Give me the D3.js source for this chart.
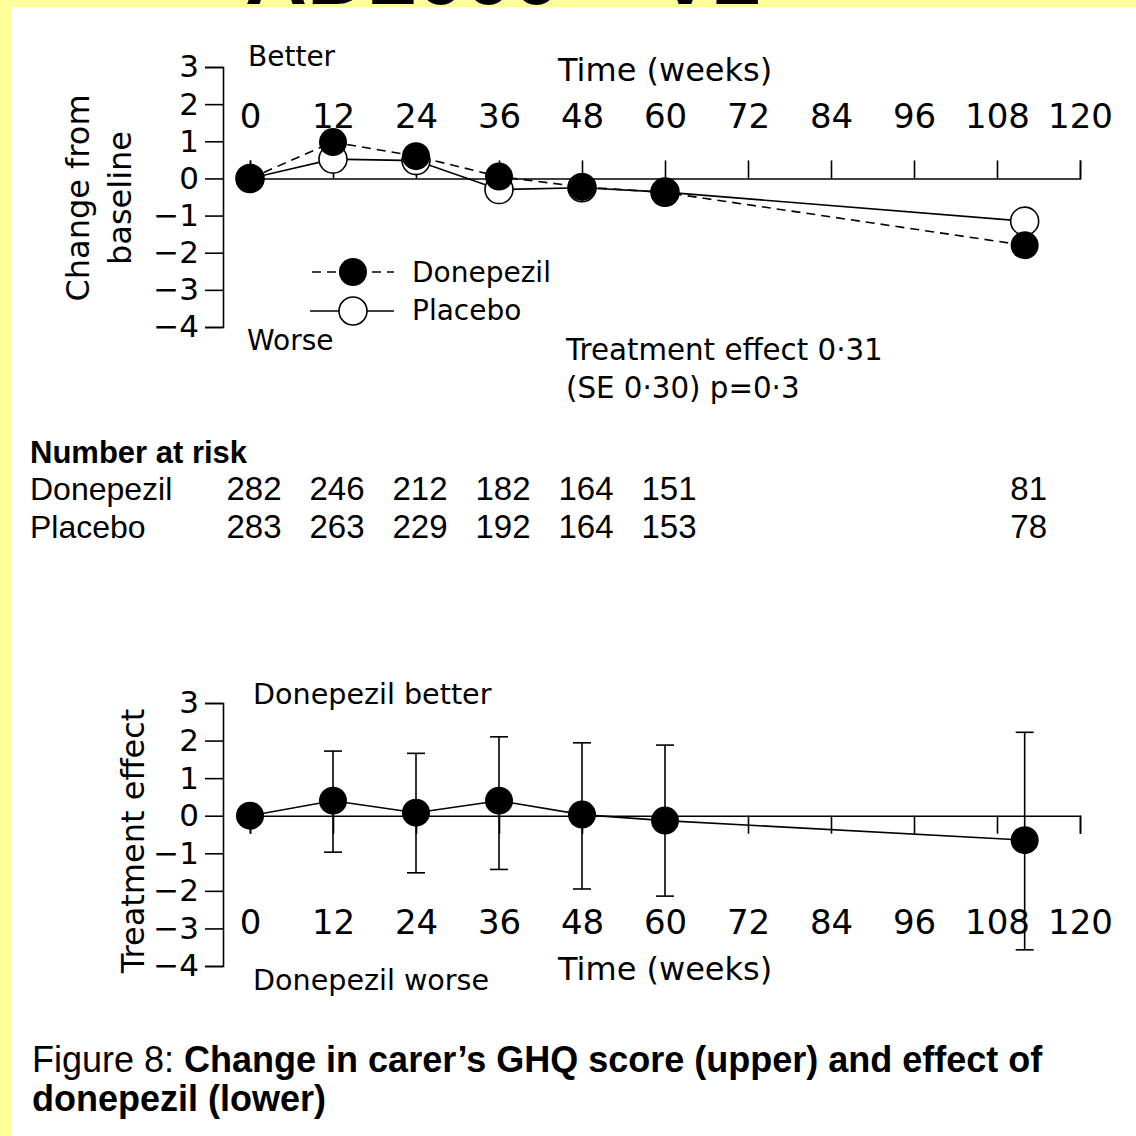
<!DOCTYPE html>
<html>
<head>
<meta charset="utf-8">
<script src="https://cdn.jsdelivr.net/npm/d3@7"></script>
<style>
  body { margin: 0; background: #ffffff; }
  svg { display: block; }
</style>
</head>
<body>
<div id="chart"></div>
<script>
// data
const TIME = [0, 12, 24, 36, 48, 60, 112];
const X_TICKS = [0, 12, 24, 36, 48, 60, 72, 84, 96, 108, 120];
const Y_TICKS = [3, 2, 1, 0, -1, -2, -3, -4];

// upper panel: change from baseline
const DONEPEZIL = [0, 0.98, 0.6, 0.05, -0.23, -0.38, -1.8];
const PLACEBO = [0, 0.52, 0.48, -0.3, -0.25, -0.37, -1.15];

// lower panel: treatment effect with CI
const EFFECT = [0, 0.4, 0.08, 0.4, 0.03, -0.13, -0.65];
const EFFECT_HI = [null, 1.72, 1.66, 2.1, 1.94, 1.88, 2.22];
const EFFECT_LO = [null, -0.97, -1.52, -1.43, -1.95, -2.14, -3.57];

// number at risk
const RISK_DONEPEZIL = [282, 246, 212, 182, 164, 151, 81];
const RISK_PLACEBO = [283, 263, 229, 192, 164, 153, 78];

const FRAME_WIDTH = 1136;
const FRAME_HEIGHT = 1136;
const CHART_FONT = "'DejaVu Sans', sans-serif";
const TEXT_FONT = "'Liberation Sans', Arial, sans-serif";
const R = 14;

const FRAME = d3.select("#chart")
                  .append("svg")
                    .attr("width", FRAME_WIDTH)
                    .attr("height", FRAME_HEIGHT);

// yellow page edge + cut-off heading
FRAME.append("rect").attr("x", 0).attr("y", 0).attr("width", FRAME_WIDTH).attr("height", 7).attr("fill", "#ffff99");
FRAME.append("rect").attr("x", 0).attr("y", 0).attr("width", 11).attr("height", FRAME_HEIGHT).attr("fill", "#ffff99");
FRAME.append("text")
    .attr("x", 245).attr("y", 4)
    .attr("font-family", TEXT_FONT).attr("font-weight", "bold").attr("font-size", 86)
    .text("AD2000 \u2013 V2");

const X_SCALE = d3.scaleLinear().domain([0, 120]).range([250, 1080]);
const Y_UP = d3.scaleLinear().domain([-4, 3]).range([327, 67]);
const Y_LOW = d3.scaleLinear().domain([-4, 3]).range([966, 703]);

function styleAxis(g, size) {
    g.attr("font-family", CHART_FONT).attr("font-size", size);
    g.selectAll("path, line").attr("stroke", "#000").attr("stroke-width", 1.6);
    g.selectAll("text").attr("fill", "#000");
}

function addText(x, y, str, size, opts) {
    opts = opts || {};
    return FRAME.append("text")
        .attr("x", x).attr("y", y)
        .attr("font-family", opts.font || CHART_FONT)
        .attr("font-size", size)
        .attr("font-weight", opts.weight || "normal")
        .attr("text-anchor", opts.anchor || "start")
        .attr("fill", "#000")
        .text(str);
}

// ---------- UPPER PANEL ----------
FRAME.append("g")
    .attr("transform", "translate(223,0)")
    .call(d3.axisLeft(Y_UP).tickValues(Y_TICKS).tickSize(18).tickPadding(6).tickFormat(d3.format("d")))
    .call(g => styleAxis(g, 31));

FRAME.append("g")
    .attr("transform", "translate(0," + Y_UP(0) + ")")
    .call(d3.axisTop(X_SCALE).tickValues(X_TICKS).tickSize(18).tickPadding(32).tickFormat(d3.format("d")))
    .call(g => styleAxis(g, 34));

addText(558, 81, "Time (weeks)", 32);
addText(248, 66, "Better", 28);
addText(247, 350, "Worse", 28);

FRAME.append("text")
    .attr("transform", "translate(89,198) rotate(-90)")
    .attr("text-anchor", "middle").attr("font-family", CHART_FONT).attr("font-size", 32)
    .text("Change from");
FRAME.append("text")
    .attr("transform", "translate(131,198) rotate(-90)")
    .attr("text-anchor", "middle").attr("font-family", CHART_FONT).attr("font-size", 32)
    .text("baseline");

const upLine = (vals) => d3.line()
    .x((d, i) => X_SCALE(TIME[i]))
    .y(d => Y_UP(d))(vals);

// placebo: solid line, open circles
FRAME.append("path")
    .attr("d", upLine(PLACEBO))
    .attr("fill", "none").attr("stroke", "#000").attr("stroke-width", 1.6);
FRAME.selectAll(".pla")
    .data(PLACEBO)
    .enter()
    .append("circle")
        .attr("cx", (d, i) => X_SCALE(TIME[i]))
        .attr("cy", d => Y_UP(d))
        .attr("r", R)
        .attr("fill", "#fff").attr("stroke", "#000").attr("stroke-width", 1.6);

// donepezil: dashed line, filled circles
FRAME.append("path")
    .attr("d", upLine(DONEPEZIL))
    .attr("fill", "none").attr("stroke", "#000").attr("stroke-width", 1.6)
    .attr("stroke-dasharray", "9,6");
FRAME.selectAll(".don")
    .data(DONEPEZIL)
    .enter()
    .append("circle")
        .attr("cx", (d, i) => X_SCALE(TIME[i]))
        .attr("cy", d => Y_UP(d))
        .attr("r", R)
        .attr("fill", "#000");

// legend
FRAME.append("line").attr("x1", 312).attr("x2", 394).attr("y1", 272).attr("y2", 272)
    .attr("stroke", "#000").attr("stroke-width", 1.6).attr("stroke-dasharray", "9,6");
FRAME.append("circle").attr("cx", 353).attr("cy", 272).attr("r", R).attr("fill", "#000");
addText(412, 282, "Donepezil", 28);
FRAME.append("line").attr("x1", 310).attr("x2", 394).attr("y1", 311).attr("y2", 311)
    .attr("stroke", "#000").attr("stroke-width", 1.6);
FRAME.append("circle").attr("cx", 353).attr("cy", 311).attr("r", R)
    .attr("fill", "#fff").attr("stroke", "#000").attr("stroke-width", 1.6);
addText(412, 320, "Placebo", 28);

addText(566, 360, "Treatment effect 0\u00b731", 29.3);
addText(566, 398, "(SE 0\u00b730) p=0\u00b73", 29.3);

// ---------- NUMBER AT RISK ----------
addText(30, 463, "Number at risk", 31, {font: TEXT_FONT, weight: "bold"});
addText(30, 500, "Donepezil", 32, {font: TEXT_FONT});
addText(30, 538, "Placebo", 32, {font: TEXT_FONT});
FRAME.selectAll(".riskd")
    .data(RISK_DONEPEZIL)
    .enter()
    .append("text")
        .attr("x", (d, i) => X_SCALE(TIME[i]) + 4)
        .attr("y", 500)
        .attr("text-anchor", "middle").attr("font-family", TEXT_FONT).attr("font-size", 33)
        .text(d => d);
FRAME.selectAll(".riskp")
    .data(RISK_PLACEBO)
    .enter()
    .append("text")
        .attr("x", (d, i) => X_SCALE(TIME[i]) + 4)
        .attr("y", 538)
        .attr("text-anchor", "middle").attr("font-family", TEXT_FONT).attr("font-size", 33)
        .text(d => d);

// ---------- LOWER PANEL ----------
FRAME.append("g")
    .attr("transform", "translate(223,0)")
    .call(d3.axisLeft(Y_LOW).tickValues(Y_TICKS).tickSize(18).tickPadding(6).tickFormat(d3.format("d")))
    .call(g => styleAxis(g, 31));

FRAME.append("g")
    .attr("transform", "translate(0," + Y_LOW(0) + ")")
    .call(d3.axisBottom(X_SCALE).tickValues(X_TICKS).tickSize(18).tickPadding(76).tickFormat(d3.format("d")))
    .call(g => styleAxis(g, 34));

addText(558, 980, "Time (weeks)", 32);
addText(253, 704, "Donepezil better", 28.6);
addText(253, 990, "Donepezil worse", 28.6);

FRAME.append("text")
    .attr("transform", "translate(144,841) rotate(-90)")
    .attr("text-anchor", "middle").attr("font-family", CHART_FONT).attr("font-size", 32)
    .text("Treatment effect");

// effect line
FRAME.append("path")
    .attr("d", d3.line().x((d, i) => X_SCALE(TIME[i])).y(d => Y_LOW(d))(EFFECT))
    .attr("fill", "none").attr("stroke", "#000").attr("stroke-width", 1.6);

// error bars
const BARS = TIME.map((t, i) => ({t: t, hi: EFFECT_HI[i], lo: EFFECT_LO[i]})).filter(d => d.hi !== null);
const EB = FRAME.selectAll(".eb")
    .data(BARS)
    .enter()
    .append("g")
        .attr("stroke", "#000").attr("stroke-width", 1.6);
EB.append("line")
    .attr("x1", d => X_SCALE(d.t)).attr("x2", d => X_SCALE(d.t))
    .attr("y1", d => Y_LOW(d.hi)).attr("y2", d => Y_LOW(d.lo));
EB.append("line")
    .attr("x1", d => X_SCALE(d.t) - 9).attr("x2", d => X_SCALE(d.t) + 9)
    .attr("y1", d => Y_LOW(d.hi)).attr("y2", d => Y_LOW(d.hi));
EB.append("line")
    .attr("x1", d => X_SCALE(d.t) - 9).attr("x2", d => X_SCALE(d.t) + 9)
    .attr("y1", d => Y_LOW(d.lo)).attr("y2", d => Y_LOW(d.lo));

FRAME.selectAll(".eff")
    .data(EFFECT)
    .enter()
    .append("circle")
        .attr("cx", (d, i) => X_SCALE(TIME[i]))
        .attr("cy", d => Y_LOW(d))
        .attr("r", R)
        .attr("fill", "#000");

// ---------- CAPTION ----------
const CAP = FRAME.append("text")
    .attr("x", 32).attr("y", 1072)
    .attr("font-family", TEXT_FONT).attr("font-size", 36);
CAP.append("tspan").text("Figure 8: ");
CAP.append("tspan").attr("font-weight", "bold").text("Change in carer\u2019s GHQ score (upper) and effect of");
addText(32, 1111, "donepezil (lower)", 36, {font: TEXT_FONT, weight: "bold"});
</script>
</body>
</html>
